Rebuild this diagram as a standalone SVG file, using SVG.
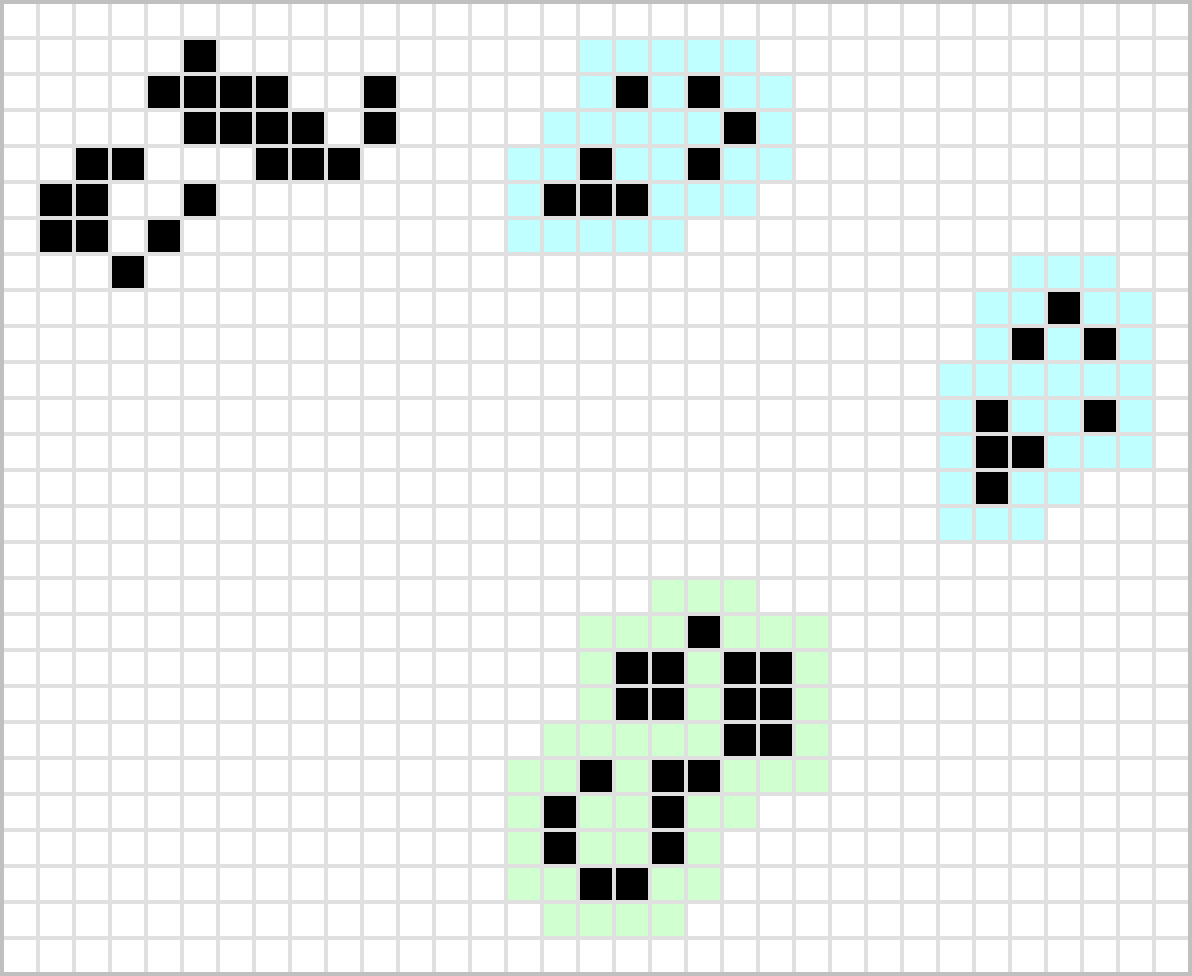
<svg xmlns="http://www.w3.org/2000/svg" xmlns:xlink="http://www.w3.org/1999/xlink" width="1192" height="976" viewBox="0 0 1192 976">
<style>
.b{fill:#000000}
.c{fill:#c0ffff}
.g{fill:#d0ffd0}
</style>
<defs>
<pattern id="grid" patternUnits="userSpaceOnUse" x="0" y="0" width="36" height="36">
<rect width="36" height="36" fill="#e0e0e0"/>
<rect x="4" y="4" width="32" height="32" fill="#ffffff"/>
</pattern>
<rect id="k" width="32" height="32"/>
</defs>
<rect x="0" y="0" width="1192" height="976" fill="url(#grid)"/>
<rect x="2" y="2" width="1188" height="972" fill="none" stroke="#c0c0c0" stroke-width="4"/>
<g id="pattern-black">
<use href="#k" class="b" x="184" y="40"/>
<use href="#k" class="b" x="148" y="76"/><use href="#k" class="b" x="184" y="76"/><use href="#k" class="b" x="220" y="76"/><use href="#k" class="b" x="256" y="76"/><use href="#k" class="b" x="364" y="76"/>
<use href="#k" class="b" x="184" y="112"/><use href="#k" class="b" x="220" y="112"/><use href="#k" class="b" x="256" y="112"/><use href="#k" class="b" x="292" y="112"/><use href="#k" class="b" x="364" y="112"/>
<use href="#k" class="b" x="76" y="148"/><use href="#k" class="b" x="112" y="148"/><use href="#k" class="b" x="256" y="148"/><use href="#k" class="b" x="292" y="148"/><use href="#k" class="b" x="328" y="148"/>
<use href="#k" class="b" x="40" y="184"/><use href="#k" class="b" x="76" y="184"/><use href="#k" class="b" x="184" y="184"/>
<use href="#k" class="b" x="40" y="220"/><use href="#k" class="b" x="76" y="220"/><use href="#k" class="b" x="148" y="220"/>
<use href="#k" class="b" x="112" y="256"/>
</g>
<g id="pattern-cyan-1">
<use href="#k" class="c" x="580" y="40"/><use href="#k" class="c" x="616" y="40"/><use href="#k" class="c" x="652" y="40"/><use href="#k" class="c" x="688" y="40"/><use href="#k" class="c" x="724" y="40"/>
<use href="#k" class="c" x="580" y="76"/><use href="#k" class="b" x="616" y="76"/><use href="#k" class="c" x="652" y="76"/><use href="#k" class="b" x="688" y="76"/><use href="#k" class="c" x="724" y="76"/><use href="#k" class="c" x="760" y="76"/>
<use href="#k" class="c" x="544" y="112"/><use href="#k" class="c" x="580" y="112"/><use href="#k" class="c" x="616" y="112"/><use href="#k" class="c" x="652" y="112"/><use href="#k" class="c" x="688" y="112"/><use href="#k" class="b" x="724" y="112"/><use href="#k" class="c" x="760" y="112"/>
<use href="#k" class="c" x="508" y="148"/><use href="#k" class="c" x="544" y="148"/><use href="#k" class="b" x="580" y="148"/><use href="#k" class="c" x="616" y="148"/><use href="#k" class="c" x="652" y="148"/><use href="#k" class="b" x="688" y="148"/><use href="#k" class="c" x="724" y="148"/><use href="#k" class="c" x="760" y="148"/>
<use href="#k" class="c" x="508" y="184"/><use href="#k" class="b" x="544" y="184"/><use href="#k" class="b" x="580" y="184"/><use href="#k" class="b" x="616" y="184"/><use href="#k" class="c" x="652" y="184"/><use href="#k" class="c" x="688" y="184"/><use href="#k" class="c" x="724" y="184"/>
<use href="#k" class="c" x="508" y="220"/><use href="#k" class="c" x="544" y="220"/><use href="#k" class="c" x="580" y="220"/><use href="#k" class="c" x="616" y="220"/><use href="#k" class="c" x="652" y="220"/>
</g>
<g id="pattern-cyan-2">
<use href="#k" class="c" x="1012" y="256"/><use href="#k" class="c" x="1048" y="256"/><use href="#k" class="c" x="1084" y="256"/>
<use href="#k" class="c" x="976" y="292"/><use href="#k" class="c" x="1012" y="292"/><use href="#k" class="b" x="1048" y="292"/><use href="#k" class="c" x="1084" y="292"/><use href="#k" class="c" x="1120" y="292"/>
<use href="#k" class="c" x="976" y="328"/><use href="#k" class="b" x="1012" y="328"/><use href="#k" class="c" x="1048" y="328"/><use href="#k" class="b" x="1084" y="328"/><use href="#k" class="c" x="1120" y="328"/>
<use href="#k" class="c" x="940" y="364"/><use href="#k" class="c" x="976" y="364"/><use href="#k" class="c" x="1012" y="364"/><use href="#k" class="c" x="1048" y="364"/><use href="#k" class="c" x="1084" y="364"/><use href="#k" class="c" x="1120" y="364"/>
<use href="#k" class="c" x="940" y="400"/><use href="#k" class="b" x="976" y="400"/><use href="#k" class="c" x="1012" y="400"/><use href="#k" class="c" x="1048" y="400"/><use href="#k" class="b" x="1084" y="400"/><use href="#k" class="c" x="1120" y="400"/>
<use href="#k" class="c" x="940" y="436"/><use href="#k" class="b" x="976" y="436"/><use href="#k" class="b" x="1012" y="436"/><use href="#k" class="c" x="1048" y="436"/><use href="#k" class="c" x="1084" y="436"/><use href="#k" class="c" x="1120" y="436"/>
<use href="#k" class="c" x="940" y="472"/><use href="#k" class="b" x="976" y="472"/><use href="#k" class="c" x="1012" y="472"/><use href="#k" class="c" x="1048" y="472"/>
<use href="#k" class="c" x="940" y="508"/><use href="#k" class="c" x="976" y="508"/><use href="#k" class="c" x="1012" y="508"/>
</g>
<g id="pattern-green">
<use href="#k" class="g" x="652" y="580"/><use href="#k" class="g" x="688" y="580"/><use href="#k" class="g" x="724" y="580"/>
<use href="#k" class="g" x="580" y="616"/><use href="#k" class="g" x="616" y="616"/><use href="#k" class="g" x="652" y="616"/><use href="#k" class="b" x="688" y="616"/><use href="#k" class="g" x="724" y="616"/><use href="#k" class="g" x="760" y="616"/><use href="#k" class="g" x="796" y="616"/>
<use href="#k" class="g" x="580" y="652"/><use href="#k" class="b" x="616" y="652"/><use href="#k" class="b" x="652" y="652"/><use href="#k" class="g" x="688" y="652"/><use href="#k" class="b" x="724" y="652"/><use href="#k" class="b" x="760" y="652"/><use href="#k" class="g" x="796" y="652"/>
<use href="#k" class="g" x="580" y="688"/><use href="#k" class="b" x="616" y="688"/><use href="#k" class="b" x="652" y="688"/><use href="#k" class="g" x="688" y="688"/><use href="#k" class="b" x="724" y="688"/><use href="#k" class="b" x="760" y="688"/><use href="#k" class="g" x="796" y="688"/>
<use href="#k" class="g" x="544" y="724"/><use href="#k" class="g" x="580" y="724"/><use href="#k" class="g" x="616" y="724"/><use href="#k" class="g" x="652" y="724"/><use href="#k" class="g" x="688" y="724"/><use href="#k" class="b" x="724" y="724"/><use href="#k" class="b" x="760" y="724"/><use href="#k" class="g" x="796" y="724"/>
<use href="#k" class="g" x="508" y="760"/><use href="#k" class="g" x="544" y="760"/><use href="#k" class="b" x="580" y="760"/><use href="#k" class="g" x="616" y="760"/><use href="#k" class="b" x="652" y="760"/><use href="#k" class="b" x="688" y="760"/><use href="#k" class="g" x="724" y="760"/><use href="#k" class="g" x="760" y="760"/><use href="#k" class="g" x="796" y="760"/>
<use href="#k" class="g" x="508" y="796"/><use href="#k" class="b" x="544" y="796"/><use href="#k" class="g" x="580" y="796"/><use href="#k" class="g" x="616" y="796"/><use href="#k" class="b" x="652" y="796"/><use href="#k" class="g" x="688" y="796"/><use href="#k" class="g" x="724" y="796"/>
<use href="#k" class="g" x="508" y="832"/><use href="#k" class="b" x="544" y="832"/><use href="#k" class="g" x="580" y="832"/><use href="#k" class="g" x="616" y="832"/><use href="#k" class="b" x="652" y="832"/><use href="#k" class="g" x="688" y="832"/>
<use href="#k" class="g" x="508" y="868"/><use href="#k" class="g" x="544" y="868"/><use href="#k" class="b" x="580" y="868"/><use href="#k" class="b" x="616" y="868"/><use href="#k" class="g" x="652" y="868"/><use href="#k" class="g" x="688" y="868"/>
<use href="#k" class="g" x="544" y="904"/><use href="#k" class="g" x="580" y="904"/><use href="#k" class="g" x="616" y="904"/><use href="#k" class="g" x="652" y="904"/>
</g>
</svg>
